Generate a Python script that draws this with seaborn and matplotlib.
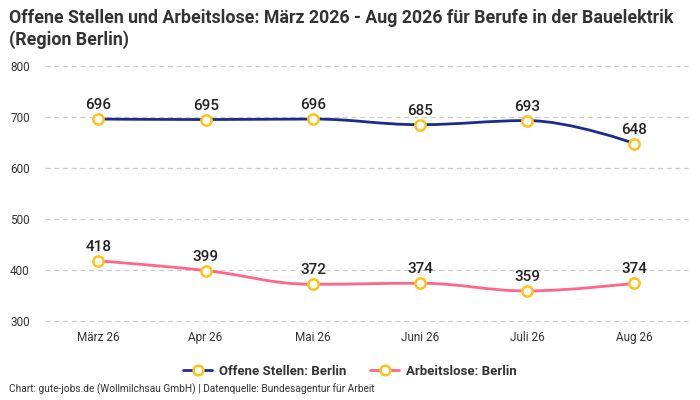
import numpy as np
import pandas as pd
import matplotlib
matplotlib.use("Agg")
import matplotlib.pyplot as plt
import seaborn as sns
from matplotlib.path import Path
from matplotlib.patches import PathPatch
from matplotlib.lines import Line2D

# data
months = ["März 26", "Apr 26", "Mai 26", "Juni 26", "Juli 26", "Aug 26"]
offene_stellen = [696, 695, 696, 685, 693, 648]
arbeitslose = [418, 399, 372, 374, 359, 374]

label_stellen = "Offene Stellen: Berlin"
label_arbeitslose = "Arbeitslose: Berlin"

navy = "#1c2b8c"
pink = "#ff6688"
marker_edge = "#ffc21a"

sns.set_style("white")
plt.rcParams["font.family"] = ["Roboto", "DejaVu Sans"]

df = pd.DataFrame({"month": months, "x": range(len(months)),
                   "stellen": offene_stellen, "arbeitslose": arbeitslose})


def spline_path(xs, ys, smoothing=1.5):
    # highcharts-style spline control points, drawn as a bezier path
    n = len(xs)
    left = [None] * n
    right = [None] * n
    for i in range(1, n - 1):
        px, py = xs[i], ys[i]
        lx, ly = xs[i - 1], ys[i - 1]
        nx, ny = xs[i + 1], ys[i + 1]
        d = smoothing + 1
        lcx = (smoothing * px + lx) / d
        lcy = (smoothing * py + ly) / d
        rcx = (smoothing * px + nx) / d
        rcy = (smoothing * py + ny) / d
        if rcx != lcx:
            corr = ((rcy - lcy) * (rcx - px)) / (rcx - lcx) + py - rcy
            lcy += corr
            rcy += corr
        if lcy > ly and lcy > py:
            lcy = max(ly, py)
            rcy = 2 * py - lcy
        elif lcy < ly and lcy < py:
            lcy = min(ly, py)
            rcy = 2 * py - lcy
        if rcy > ny and rcy > py:
            rcy = max(ny, py)
            lcy = 2 * py - rcy
        elif rcy < ny and rcy < py:
            rcy = min(ny, py)
            lcy = 2 * py - rcy
        left[i] = (lcx, lcy)
        right[i] = (rcx, rcy)
    verts = [(xs[0], ys[0])]
    codes = [Path.MOVETO]
    for i in range(1, n):
        c1 = right[i - 1] if right[i - 1] else (xs[i - 1], ys[i - 1])
        c2 = left[i] if left[i] else (xs[i], ys[i])
        verts += [c1, c2, (xs[i], ys[i])]
        codes += [Path.CURVE4] * 3
    return Path(verts, codes)


fig = plt.figure(figsize=(7, 4), dpi=100)
ax = fig.add_axes([0.064, 0.1975, 0.919, 0.6375])

for col, color in [("stellen", navy), ("arbeitslose", pink)]:
    path = spline_path(list(df["x"]), list(df[col]))
    ax.add_patch(PathPatch(path, facecolor="none", edgecolor=color, lw=2, zorder=3))
    sns.scatterplot(data=df, x="x", y=col, ax=ax, s=55, color="white",
                    edgecolor=marker_edge, linewidth=1.8, zorder=4, legend=False)
    for xi, yi in zip(df["x"], df[col]):
        ax.annotate(f"{yi}", (xi, yi), xytext=(0, 5), textcoords="offset points",
                    ha="center", va="bottom", fontsize=11, fontweight="medium",
                    color="#222222", zorder=5)

ax.set_xlim(-0.5, len(months) - 0.5)
ax.set_ylim(300, 800)
ax.set_yticks([300, 400, 500, 600, 700, 800])
ax.set_xticks(range(len(months)))
ax.set_xticklabels(months)
ax.set_xlabel("")
ax.set_ylabel("")
ax.tick_params(axis="both", length=0, labelsize=8.5, colors="#333333")
ax.tick_params(axis="x", pad=7)
ax.tick_params(axis="y", pad=25)
for lbl in ax.get_yticklabels():
    lbl.set_horizontalalignment("left")
ax.grid(axis="y", color="#cccccc", linestyle=(0, (4, 3)), linewidth=0.9)
ax.grid(axis="x", visible=False)
for gl in ax.get_ygridlines():
    gl.set_clip_on(False)
sns.despine(ax=ax, left=True, bottom=True)

fig.text(0.013, 0.978, "Offene Stellen und Arbeitslose: März 2026 - Aug 2026 für Berufe in der Bauelektrik\n(Region Berlin)",
         ha="left", va="top", fontsize=12.8, fontweight="bold", color="#333333", linespacing=1.25)

handles = [
    Line2D([0], [0], color=navy, lw=2, marker="o", markersize=7,
           markerfacecolor="white", markeredgecolor=marker_edge, markeredgewidth=1.8),
    Line2D([0], [0], color=pink, lw=2, marker="o", markersize=7,
           markerfacecolor="white", markeredgecolor=marker_edge, markeredgewidth=1.8),
]
leg = fig.legend(handles, [label_stellen, label_arbeitslose], loc="center",
                 bbox_to_anchor=(0.5, 0.072), ncol=2, frameon=False,
                 handlelength=2.2, columnspacing=1.8, handletextpad=0.5,
                 prop={"weight": "bold", "size": 9.5})
for t in leg.get_texts():
    t.set_color("#333333")

fig.text(0.013, 0.012, "Chart: gute-jobs.de (Wollmilchsau GmbH) | Datenquelle: Bundesagentur für Arbeit",
         ha="left", va="bottom", fontsize=7.3, color="#333333")

fig.savefig("out.png", dpi=100)
